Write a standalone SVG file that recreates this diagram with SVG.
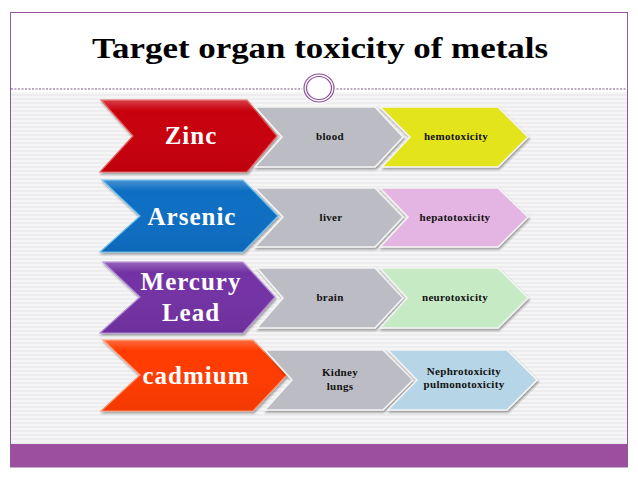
<svg xmlns="http://www.w3.org/2000/svg" width="638" height="479" viewBox="0 0 638 479">
<defs>
<pattern id="stripes" width="4" height="4" patternUnits="userSpaceOnUse">
<rect width="4" height="4" fill="#f5f5f6"/>
<rect y="2" width="4" height="2" fill="#ededef"/>
</pattern>
<filter id="sh" x="-10%" y="-10%" width="130%" height="140%">
<feDropShadow dx="1" dy="2" stdDeviation="1.2" flood-color="#000" flood-opacity="0.35"/>
</filter>
<linearGradient id="gloss" x1="0" y1="0" x2="0" y2="1">
<stop offset="0" stop-color="#fff" stop-opacity="0.25"/>
<stop offset="0.15" stop-color="#fff" stop-opacity="0"/>
<stop offset="1" stop-color="#000" stop-opacity="0.05"/>
</linearGradient>
</defs>
<style>
.big{stroke-width:1.2;filter:url(#sh)}
.small{stroke:#f4f4f4;stroke-width:1.5;filter:url(#sh)}
.bt{font-family:"Liberation Serif","DejaVu Serif",serif;font-weight:bold;font-size:25px;letter-spacing:1px;fill:#fff;text-anchor:middle}
.st{font-family:"Liberation Serif","DejaVu Serif",serif;font-weight:bold;font-size:11px;letter-spacing:0.3px;fill:#111;text-anchor:middle}
</style>
<rect width="638" height="479" fill="#fff"/>
<rect x="10" y="92" width="618" height="352" fill="url(#stripes)"/>
<rect x="10" y="444" width="618" height="23" fill="#9c4f9f"/>
<rect x="10.5" y="12.5" width="617" height="454.5" fill="none" stroke="#8e5a98" stroke-width="1"/>
<line x1="11" y1="89" x2="627" y2="89" stroke="#7d4f8b" stroke-width="1" stroke-dasharray="2,1.5"/>
<g id="emblem">
<ellipse cx="319" cy="88" rx="17" ry="16" fill="#fff"/>
<ellipse cx="319" cy="88" rx="15" ry="14" fill="#fff" stroke="#8e4d9a" stroke-width="1.2"/>
<ellipse cx="319" cy="88" rx="12.5" ry="11.5" fill="none" stroke="#8e4d9a" stroke-width="1.2"/>
</g>
<g id="title">
<text x="320" y="58" font-family="Liberation Serif, DejaVu Serif, serif" font-weight="bold" font-size="29" fill="#000" text-anchor="middle" textLength="456" lengthAdjust="spacingAndGlyphs">Target organ toxicity of metals</text>
</g>
<g id="row-zinc">
<g id="zinc">
<polygon class="big" points="101,100 247,100 277,136 247,172 100,172 133,136" fill="#c8000c" stroke="#e86060"/>
<polygon points="101,100 247,100 277,136 247,172 100,172 133,136" fill="url(#gloss)"/>
<text class="bt" x="191" y="144">Zinc</text>
</g>
<g id="blood">
<polygon class="small" points="255,107 375,107 403,137 375,167 255,167 282,137" fill="#bcbdc4"/>
<text class="st" x="330" y="140">blood</text>
</g>
<g id="hemotoxicity">
<polygon class="small" points="380,107 498,107 528,137 498,167 382,167 410,137" fill="#e4e41c"/>
<text class="st" x="456" y="140">hemotoxicity</text>
</g>
</g>
<g id="row-arsenic">
<g id="arsenic">
<polygon class="big" points="102,180 243,180 278,216 243,252 100,252 140,216" fill="#0b6ec3" stroke="#6fc0ee"/>
<polygon points="102,180 243,180 278,216 243,252 100,252 140,216" fill="url(#gloss)"/>
<text class="bt" x="192" y="225">Arsenic</text>
</g>
<g id="liver">
<polygon class="small" points="255,188 375,188 403,217 375,247 255,247 283,217" fill="#bcbdc4"/>
<text class="st" x="331" y="221">liver</text>
</g>
<g id="hepatotoxicity">
<polygon class="small" points="380,188 498,188 528,217 498,247 380,247 408,217" fill="#e4b4e2"/>
<text class="st" x="455" y="221">hepatotoxicity</text>
</g>
</g>
<g id="row-mercury">
<g id="mercury-lead">
<polygon class="big" points="103,262 243,262 275,297 243,333 100,333 140,297" fill="#7332a4" stroke="#b48ad8"/>
<polygon points="103,262 243,262 275,297 243,333 100,333 140,297" fill="url(#gloss)"/>
<text class="bt" x="191" y="290">Mercury</text>
<text class="bt" x="191" y="321">Lead</text>
</g>
<g id="brain">
<polygon class="small" points="257,268 375,268 403,298 375,328 257,328 283,298" fill="#bcbdc4"/>
<text class="st" x="330" y="301">brain</text>
</g>
<g id="neurotoxicity">
<polygon class="small" points="380,268 498,268 528,298 498,328 380,328 407,298" fill="#c6eac4"/>
<text class="st" x="455" y="301">neurotoxicity</text>
</g>
</g>
<g id="row-cadmium">
<g id="cadmium">
<polygon class="big" points="103,340 253,340 287,375 253,411 101,411 140,375" fill="#ff3a00" stroke="#ff9a70"/>
<polygon points="103,340 253,340 287,375 253,411 101,411 140,375" fill="url(#gloss)"/>
<text class="bt" x="196" y="384">cadmium</text>
</g>
<g id="kidney-lungs">
<polygon class="small" points="265,350 383,350 413,380 383,410 265,410 292,380" fill="#bcbdc4"/>
<text class="st" x="340" y="376">Kidney</text>
<text class="st" x="340" y="390">lungs</text>
</g>
<g id="nephrotoxicity">
<polygon class="small" points="388,350 507,350 537,380 507,410 388,410 417,380" fill="#b6d5e6"/>
<text class="st" x="464" y="375">Nephrotoxicity</text>
<text class="st" x="464" y="388">pulmonotoxicity</text>
</g>
</g>
</svg>
